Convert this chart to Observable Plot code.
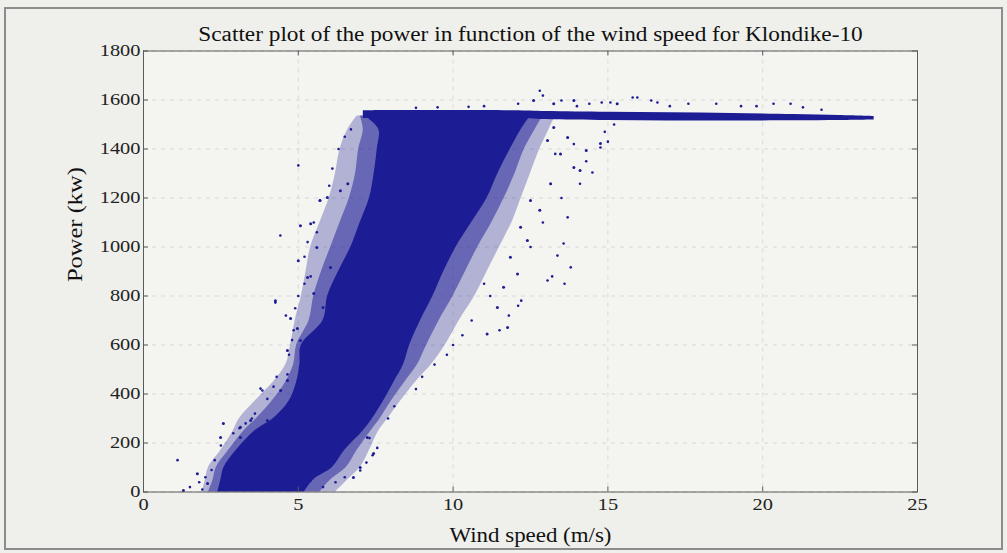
<!DOCTYPE html>
<html>
<head>
<meta charset="utf-8">
<script src="https://cdn.jsdelivr.net/npm/d3@7"></script>
<script src="https://cdn.jsdelivr.net/npm/@observablehq/plot@0.6"></script>
<style>
  html, body { margin: 0; padding: 0; background: #efefeb; }
  #wrap { position: relative; width: 1007px; height: 553px; overflow: hidden; background: #efefeb; }
  #frame { position: absolute; left: 4px; top: 7px; width: 995px; height: 539px; border: 2px solid #8c8c8c; box-sizing: content-box; pointer-events: none; }
  #chart { position: absolute; left: 0; top: 0; }
</style>
</head>
<body>
<div id="wrap"><div id="chart"></div><div id="frame"></div></div>
<script>
// ---- Data ----
const titleText = "Scatter plot of the power in function of the wind speed for Klondike-10";
const xLabel = "Wind speed (m/s)";
const yLabel = "Power (kw)";
const xTicks = [0, 5, 10, 15, 20, 25];
const yTicks = [0, 200, 400, 600, 800, 1000, 1200, 1400, 1600, 1800];

// dense core of the point cloud: wind-speed extent at each power level
const coreP     = [0,   50,  100, 170, 250, 300, 370, 450, 520, 600, 700, 800, 900, 1000, 1100, 1200, 1300, 1400, 1480, 1535];
const coreLeft  = [2.4, 2.5, 2.6, 3.0, 3.6, 4.2, 4.7, 4.95, 5.05, 5.1, 5.8, 5.95, 6.3, 6.7, 7.0, 7.3, 7.45, 7.55, 7.6, 7.15];
const coreRight = [5.2, 5.5, 6.1, 6.5, 7.1, 7.4, 7.75, 8.1, 8.4, 8.6, 8.95, 9.35, 9.7, 10.1, 10.6, 11.1, 11.45, 11.85, 12.2, 12.5];

// moderately dense fringe
const innerLeft  = [2.1, 2.25, 2.35, 2.75, 3.25, 3.65, 4.15, 4.6, 4.85, 4.95, 5.35, 5.5, 5.75, 6.05, 6.35, 6.65, 6.85, 6.95, 7.1, 7.0];
const innerRight = [5.7, 6.05, 6.55, 6.9, 7.35, 7.65, 8.0, 8.45, 8.85, 9.15, 9.55, 10.0, 10.4, 10.8, 11.25, 11.65, 12.0, 12.3, 12.65, 12.9];

// sparse outer fringe
const outerLeft  = [1.9, 2.0, 2.1, 2.5, 2.9, 3.1, 3.6, 4.2, 4.6, 4.75, 4.9, 5.1, 5.25, 5.4, 5.7, 6.0, 6.2, 6.35, 6.6, 6.9];
const outerRight = [6.2, 6.6, 7.0, 7.3, 7.6, 7.9, 8.3, 8.8, 9.3, 9.75, 10.2, 10.7, 11.1, 11.5, 11.9, 12.2, 12.5, 12.8, 13.1, 13.3];

// rated-power plateau
const platX      = [7.1,  8,    10,   12,   13,   15,   17,   19,   21,   22.5, 23.6];
const platTop    = [1556, 1557, 1557, 1556, 1553, 1550, 1548, 1545, 1541, 1537, 1533];
const platBottom = [1525, 1527, 1530, 1527, 1520, 1516, 1514, 1514, 1515, 1516, 1518];

// isolated points outside the dense cloud
const outX = [1.1, 1.5, 1.8, 2.0, 2.2, 1.9, 2.3, 2.5, 2.9, 3.1, 3.3, 3.5, 3.6, 3.84, 3.78, 4.0, 4.2,
  4.3, 4.65, 4.7, 4.8, 4.85, 4.26, 4.6, 4.9, 5.0, 4.42, 5.0, 5.2, 5.3, 5.5, 5.7, 6.0, 6.1, 6.3, 6.5, 6.7, 5.6, 5.4, 5.2,
  5.8, 6.2, 6.5, 7.0, 7.2, 7.4, 7.55, 7.3, 7.9, 8.1, 8.8, 9.0, 9.4, 9.8, 10.0, 10.3, 10.6, 11.5, 11.8, 12.2, 12.1, 11.2, 11.0,
  13.05, 13.6, 13.2, 13.37, 13.8, 13.57, 12.5, 13.7, 12.9, 14.1, 14.5, 13.5, 14.76, 14.3, 15.0, 14.9, 15.2, 13.9, 13.3,
  12.1, 12.8, 12.9, 13.5, 14.4, 14.8, 15.08, 15.8, 15.95, 16.4, 16.6, 17.6, 18.5, 19.3, 20.35, 20.9, 21.3, 21.9, 11.0, 9.5, 10.5, 8.8, 14.0, 17.0, 19.8];
const outY = [130, 20, 40, 60, 90, 10, 130, 190, 240, 260, 280, 300, 320, 414, 422, 380, 430,
  470, 480, 560, 620, 660, 773, 720, 750, 800, 1047, 1333, 960, 1020, 1100, 1190, 1250, 1320, 1400, 1450, 1480, 1060, 880, 850,
  20, 40, 60, 88, 120, 150, 180, 220, 300, 350, 420, 470, 520, 560, 600, 640, 700, 660, 720, 781, 760, 800, 850,
  863, 850, 880, 965, 917, 1014, 1000, 1121, 1100, 1258, 1304, 1200, 1406, 1350, 1430, 1470, 1500, 1420, 1380,
  1585, 1638, 1618, 1598, 1585, 1590, 1590, 1610, 1610, 1598, 1590, 1585, 1585, 1575, 1585, 1585, 1570, 1560, 1575, 1570, 1572, 1568, 1575, 1575, 1575];

// speckle points on the fringe of the cloud
const fringeX = [5.07, 5.4, 5.0, 5.3, 4.26, 4.75, 4.97, 5.7, 5.94, 6.36, 6.6, 5.6, 5.5, 5.8, 6.04,
  13.05, 13.47, 13.9, 13.15, 12.5, 12.8, 12.18, 12.4, 11.85, 12.08, 11.63, 11.43, 11.76, 11.1,
  12.6, 13.25, 13.9, 15.3, 13.25, 13.7, 14.3, 14.1, 14.76,
  2.58, 3.13, 3.46, 4.0, 2.49, 3.13, 4.43, 4.65, 5.07, 4.65, 5.07, 1.74, 2.07, 1.29,
  5.39, 5.72, 5.94, 7.23, 7.43, 7.0, 6.78];
const fringeY = [1087, 1095, 944, 876, 781, 708, 667, 1190, 1202, 1230, 1258, 998, 810, 753, 916,
  1435, 1380, 1325, 1258, 1190, 1150, 1081, 1027, 958, 890, 836, 753, 671, 645,
  1598, 1585, 1598, 1585, 1488, 1447, 1394, 1312, 1422,
  280, 264, 292, 292, 222, 222, 414, 455, 496, 578, 618, 75, 35, 6,
  47, 88, 116, 222, 157, 100, 59];

// ---- tables built from the arrays ----
const band = (L, R) => coreP.map((p, i) => ({p, x1: L[i], x2: R[i]}));
const core = band(coreLeft, coreRight);
const inner = band(innerLeft, innerRight);
const outer = band(outerLeft, outerRight);
const plateau = platX.map((x, i) => ({x, y1: platBottom[i], y2: platTop[i]}));
const outliers = outX.map((x, i) => ({x, y: outY[i]}));
const fringe = fringeX.map((x, i) => ({x, y: fringeY[i]}));

const W = 1007, H = 553;
const mL = 143, mR = 90, mT = 50.5, mB = 61.5;
const fw = W - mL - mR, fh = H - mT - mB;
const blue = "#1c1c95";
const serif = "'Liberation Serif', 'Times New Roman', serif";

const chart = Plot.plot({
  width: W, height: H,
  marginLeft: mL, marginRight: mR, marginTop: mT, marginBottom: mB,
  style: {background: "transparent", fontFamily: serif, fontSize: "17px", color: "#222"},
  x: {domain: [0, 25], ticks: xTicks, label: null},
  y: {domain: [0, 1800], ticks: yTicks, label: null},
  marks: [
    Plot.frame({fill: "#f4f4f1", stroke: "none"}),
    Plot.gridX(xTicks, {stroke: "#b8b8b8", strokeOpacity: 0.45, strokeDasharray: "4,5"}),
    Plot.gridY(yTicks, {stroke: "#b8b8b8", strokeOpacity: 0.45, strokeDasharray: "4,5"}),
    Plot.areaX(outer, {y: "p", x1: "x1", x2: "x2", fill: blue, fillOpacity: 0.3, curve: "catmull-rom"}),
    Plot.areaX(inner, {y: "p", x1: "x1", x2: "x2", fill: blue, fillOpacity: 0.5, curve: "catmull-rom"}),
    Plot.areaX(core, {y: "p", x1: "x1", x2: "x2", fill: blue, curve: "catmull-rom"}),
    Plot.areaY(plateau, {x: "x", y1: "y1", y2: "y2", fill: blue, curve: "catmull-rom"}),
    Plot.dot(fringe, {x: "x", y: "y", r: 1.5, fill: blue, stroke: "none"}),
    Plot.dot(outliers, {x: "x", y: "y", r: 1.3, fill: blue, stroke: "none"}),
    Plot.frame({stroke: "#5a5a5a", strokeWidth: 1}),
    // inward ticks (MATLAB style) on all four sides
    Plot.ruleX(xTicks, {stroke: "#5a5a5a", insetTop: fh - 5}),
    Plot.ruleX(xTicks, {stroke: "#5a5a5a", insetBottom: fh - 5}),
    Plot.ruleY(yTicks, {stroke: "#5a5a5a", insetRight: fw - 5}),
    Plot.ruleY(yTicks, {stroke: "#5a5a5a", insetLeft: fw - 5}),
    Plot.axisX({ticks: xTicks, tickSize: 0, tickPadding: 6, fontSize: 17, label: null, tickFormat: d3.format("d")}),
    Plot.axisY({ticks: yTicks, tickSize: 0, tickPadding: 3, fontSize: 17, label: null, tickFormat: d3.format("d")}),
    Plot.text([titleText], {frameAnchor: "top", dy: -10, lineAnchor: "bottom", fontSize: 20, fill: "#111", className: "ttl"}),
    Plot.text([xLabel], {frameAnchor: "bottom", dy: 50, lineAnchor: "bottom", fontSize: 20, fill: "#111", className: "xlab"}),
    Plot.text([yLabel], {frameAnchor: "left", dx: -68, rotate: -90, fontSize: 20, fill: "#111", className: "ylab"})
  ]
});
document.getElementById("chart").appendChild(chart);

// stretch text like the reference (its glyphs are wider than plain Times)
function stretch(sel, opts) {
  chart.querySelectorAll(sel).forEach(t => {
    const r = t.getBoundingClientRect();
    const along = opts.vertical ? r.height : r.width;
    const s = opts.target ? opts.target / along : opts.factor;
    const sx = opts.vertical ? 1 : s, sy = opts.vertical ? s : 1;
    const ax = opts.anchor === "right" ? r.right : r.left + r.width / 2;
    const ay = r.top + r.height / 2;
    const parent = t.parentNode;
    const pt = chart.createSVGPoint();
    pt.x = ax; pt.y = ay;
    const lp = pt.matrixTransform(parent.getScreenCTM().inverse());
    const g = document.createElementNS("http://www.w3.org/2000/svg", "g");
    g.setAttribute("transform", `translate(${lp.x},${lp.y}) scale(${sx},${sy}) translate(${-lp.x},${-lp.y})`);
    parent.insertBefore(g, t);
    g.appendChild(t);
  });
}
stretch(".ttl text", {target: 665});
stretch(".xlab text", {target: 162});
stretch(".ylab text", {target: 115, vertical: true});
stretch("[aria-label='x-axis tick label'] text", {factor: 1.2});
stretch("[aria-label='y-axis tick label'] text", {factor: 1.2, anchor: "right"});
</script>
</body>
</html>
